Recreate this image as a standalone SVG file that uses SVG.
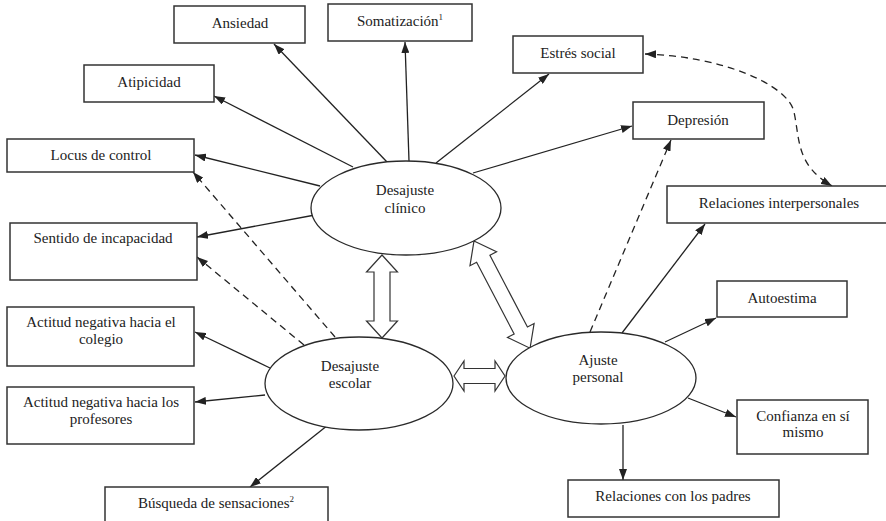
<svg xmlns="http://www.w3.org/2000/svg" width="886" height="521" viewBox="0 0 886 521">
  <style>
    .box { fill: #ffffff; stroke: #333333; stroke-width: 1.5; }
    .ell { fill: #ffffff; stroke: #2a2a2a; stroke-width: 1.3; }
    .lbl { font-family: "Liberation Serif", "Times New Roman", serif; font-size: 15px; fill: #222222; text-anchor: middle; }
    .sup { font-size: 9px; }
    .solid { fill: none; stroke: #222222; stroke-width: 1.3; marker-end: url(#head); }
    .dash { fill: none; stroke: #222222; stroke-width: 1.3; stroke-dasharray: 7 5; marker-end: url(#head); }
    .dbl { fill: #ffffff; stroke: #333333; stroke-width: 1.2; stroke-linejoin: miter; }
  </style>
  <defs>
    <marker id="head" markerUnits="userSpaceOnUse" markerWidth="11" markerHeight="8" refX="11" refY="4" orient="auto-start-reverse">
      <path d="M0,0 L11,4 L0,8 z" fill="#222222"/>
    </marker>
  </defs>
  <rect width="886" height="521" fill="#ffffff"/>

  <!-- connectors -->
  <g id="connectors">
    <!-- from Desajuste clinico -->
    <line class="solid" x1="387" y1="162" x2="274" y2="44"/>
    <line class="solid" x1="409" y1="161" x2="405" y2="42"/>
    <line class="solid" x1="353" y1="167" x2="214" y2="96"/>
    <line class="solid" x1="436" y1="163" x2="549" y2="74"/>
    <line class="solid" x1="473" y1="173" x2="632" y2="126"/>
    <line class="solid" x1="320" y1="186" x2="195" y2="155"/>
    <line class="solid" x1="315" y1="215" x2="197" y2="237"/>
    <!-- from Desajuste escolar -->
    <line class="solid" x1="270" y1="368" x2="195" y2="332"/>
    <line class="solid" x1="265" y1="395" x2="195" y2="402"/>
    <line class="solid" x1="328" y1="425" x2="250" y2="487"/>
    <line class="dash" x1="335" y1="337" x2="193" y2="172"/>
    <line class="dash" x1="304" y1="345" x2="197" y2="257"/>
    <!-- from Ajuste personal -->
    <line class="solid" x1="622" y1="333" x2="705" y2="224"/>
    <line class="solid" x1="665" y1="342" x2="716" y2="318"/>
    <line class="solid" x1="688" y1="398" x2="736" y2="417"/>
    <line class="solid" x1="623" y1="425" x2="623" y2="480"/>
    <line class="dash" x1="590" y1="332" x2="671" y2="140"/>
    <!-- two-way dashed link -->
    <path class="dash" d="M645,54 C720,56 788,84 794,112 C800,140 796,165 832,186" marker-start="url(#head)"/>
    <!-- hollow double arrows between factors -->
    <polygon class="dbl" points="382,255 397.5,272 390,272 390,321 397.5,321 382,338 366.5,321 374,321 374,272 366.5,272"/>
    <polygon class="dbl" points="454,376 464,361 464,368.5 495,368.5 495,361 505,376 495,391 495,383.5 464,383.5 464,391"/>
    <polygon class="dbl" transform="translate(474,241) rotate(62.4)" points="0,0 20,-15 20,-7.5 101,-7.5 101,-15 121,0 101,15 101,7.5 20,7.5 20,15"/>
  </g>

  <!-- factors -->
  <g id="desajuste-clinico">
    <ellipse class="ell" cx="406" cy="208" rx="95" ry="47"/>
    <text class="lbl" x="405" y="195">Desajuste</text>
    <text class="lbl" x="405" y="213">clínico</text>
  </g>
  <g id="desajuste-escolar">
    <ellipse class="ell" cx="359" cy="383.5" rx="94" ry="46.5"/>
    <text class="lbl" x="350" y="371">Desajuste</text>
    <text class="lbl" x="350" y="388">escolar</text>
  </g>
  <g id="ajuste-personal">
    <ellipse class="ell" cx="601" cy="378" rx="95" ry="46"/>
    <text class="lbl" x="598" y="365">Ajuste</text>
    <text class="lbl" x="598" y="382">personal</text>
  </g>

  <!-- indicators -->
  <g id="ansiedad">
    <rect class="box" x="174" y="6" width="131" height="37"/>
    <text class="lbl" x="240" y="28">Ansiedad</text>
  </g>
  <g id="somatizacion">
    <rect class="box" x="328" y="4" width="144" height="37"/>
    <text class="lbl" x="400" y="26">Somatización<tspan class="sup" dy="-6">1</tspan></text>
  </g>
  <g id="atipicidad">
    <rect class="box" x="84" y="65" width="130" height="37"/>
    <text class="lbl" x="149" y="87">Atipicidad</text>
  </g>
  <g id="estres-social">
    <rect class="box" x="513" y="36" width="130" height="37"/>
    <text class="lbl" x="578" y="58">Estrés social</text>
  </g>
  <g id="depresion">
    <rect class="box" x="633" y="102" width="131" height="37"/>
    <text class="lbl" x="698" y="125">Depresión</text>
  </g>
  <g id="locus-control">
    <rect class="box" x="7" y="139" width="187" height="33"/>
    <text class="lbl" x="101" y="160">Locus de control</text>
  </g>
  <g id="sentido-incapacidad">
    <rect class="box" x="10" y="223" width="187" height="57"/>
    <text class="lbl" x="103" y="243">Sentido de incapacidad</text>
  </g>
  <g id="relaciones-interpersonales">
    <rect class="box" x="667" y="186" width="225" height="37"/>
    <text class="lbl" x="779" y="208">Relaciones interpersonales</text>
  </g>
  <g id="autoestima">
    <rect class="box" x="717" y="281" width="130" height="36"/>
    <text class="lbl" x="782" y="303">Autoestima</text>
  </g>
  <g id="actitud-colegio">
    <rect class="box" x="7" y="307" width="187" height="59"/>
    <text class="lbl" x="101" y="327">Actitud negativa hacia el</text>
    <text class="lbl" x="101" y="344">colegio</text>
  </g>
  <g id="actitud-profesores">
    <rect class="box" x="7" y="387" width="187" height="57"/>
    <text class="lbl" x="101" y="407">Actitud negativa hacia los</text>
    <text class="lbl" x="101" y="424">profesores</text>
  </g>
  <g id="confianza">
    <rect class="box" x="737" y="400" width="131" height="54"/>
    <text class="lbl" x="803" y="421">Confianza en sí</text>
    <text class="lbl" x="803" y="437">mismo</text>
  </g>
  <g id="relaciones-padres">
    <rect class="box" x="568" y="480" width="211" height="37"/>
    <text class="lbl" x="673" y="501">Relaciones con los padres</text>
  </g>
  <g id="busqueda-sensaciones">
    <rect class="box" x="105" y="487" width="223" height="40"/>
    <text class="lbl" x="216" y="508">Búsqueda de sensaciones<tspan class="sup" dy="-6">2</tspan></text>
  </g>
</svg>
